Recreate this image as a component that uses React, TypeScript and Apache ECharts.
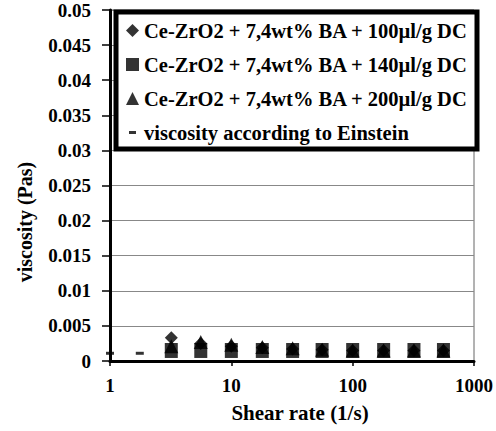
import React, { useEffect, useRef } from "react";
import * as echarts from "echarts";

const shearRate = [3.2, 5.6, 10, 18, 32, 56, 100, 180, 320, 560];
const visc100 = [0.0033, 0.0025, 0.0021, 0.0019, 0.0017, 0.0016, 0.0015, 0.0015, 0.0015, 0.0015];
const visc140 = [0.0015, 0.0015, 0.0015, 0.0015, 0.0015, 0.0015, 0.0015, 0.0015, 0.0015, 0.0015];
const visc200 = [0.0021, 0.0027, 0.0023, 0.002, 0.0018, 0.0016, 0.0015, 0.0015, 0.0015, 0.0015];
const einsteinRate = [1, 1.76];
const einsteinVisc = [0.0011, 0.0011];

const seriesNames = [
  "Ce-ZrO2 + 7,4wt% BA + 100µl/g DC",
  "Ce-ZrO2 + 7,4wt% BA + 140µl/g DC",
  "Ce-ZrO2 + 7,4wt% BA + 200µl/g DC",
  "viscosity according to Einstein",
];

const FONT = "Liberation Serif";
const dashIcon =
  "path://M0,0L0.01,0L0,0.01Z M13,13L12.99,13L13,12.99Z M3,5L10,5L10,8L3,8Z";

export default function App() {
  const ref = useRef<HTMLDivElement>(null);
  useEffect(() => {
    if (!ref.current) return;
    const chart = echarts.init(ref.current, undefined, { renderer: "svg" });
    const pair = (xs: number[], ys: number[]) => xs.map((x, i) => [x, ys[i]]);
    chart.setOption({
      animation: false,
      backgroundColor: "#fff",
      grid: {
        left: 110,
        right: 19,
        top: 10,
        bottom: 70,
        show: true,
        borderColor: "#666",
        borderWidth: 1,
      },
      xAxis: {
        type: "log",
        logBase: 10,
        min: 1,
        max: 1000,
        axisLine: { show: true, onZero: false, lineStyle: { color: "#000", width: 3 } },
        axisTick: { show: true, inside: false, length: 5, lineStyle: { color: "#000", width: 1.5 } },
        minorTick: { show: false },
        splitLine: { show: false },
        axisLabel: {
          color: "#000",
          fontFamily: FONT,
          fontWeight: "bold",
          fontSize: 19,
          margin: 15,
          formatter: (v: number) => String(Math.round(v)),
        },
      },
      yAxis: {
        type: "value",
        min: 0,
        max: 0.05,
        interval: 0.005,
        axisLine: { show: true, lineStyle: { color: "#000", width: 3 } },
        axisTick: { show: true, inside: false, length: 8, lineStyle: { color: "#000", width: 1.5 } },
        splitLine: { show: true, lineStyle: { color: "#888", width: 1 } },
        axisLabel: {
          color: "#000",
          fontFamily: FONT,
          fontWeight: "bold",
          fontSize: 19,
          margin: 19,
        },
      },
      legend: {
        orient: "vertical",
        left: 126,
        top: 20,
        padding: 0,
        itemGap: 13,
        itemWidth: 13,
        itemHeight: 13,
        z: 10,
        selectedMode: false,
        textStyle: {
          color: "#000",
          fontFamily: FONT,
          fontWeight: "bold",
          fontSize: 20.5,
          lineHeight: 20,
        },
        data: [
          { name: seriesNames[0], icon: "diamond" },
          { name: seriesNames[1], icon: "rect" },
          { name: seriesNames[2], icon: "triangle" },
          { name: seriesNames[3], icon: dashIcon },
        ],
      },
      graphic: [
        {
          type: "rect",
          z: 5,
          shape: { x: 116, y: 12, width: 361, height: 137 },
          style: { fill: "#fff", stroke: "#000", lineWidth: 5 },
        },
        {
          type: "text",
          z: 5,
          x: 25,
          y: 222,
          rotation: Math.PI / 2,
          style: {
            text: "viscosity (Pas)",
            fontFamily: FONT,
            fontWeight: "bold",
            fontSize: 20,
            fill: "#000",
            align: "center",
            verticalAlign: "middle",
          },
        },
        {
          type: "text",
          z: 5,
          x: 300,
          y: 413,
          style: {
            text: "Shear rate (1/s)",
            fontFamily: FONT,
            fontWeight: "bold",
            fontSize: 21,
            fill: "#000",
            align: "center",
            verticalAlign: "middle",
          },
        },
      ],
      series: [
        {
          name: seriesNames[0],
          type: "scatter",
          symbol: "diamond",
          symbolSize: 13,
          itemStyle: { color: "#000" },
          data: pair(shearRate, visc100),
        },
        {
          name: seriesNames[1],
          type: "scatter",
          symbol: "rect",
          symbolSize: [13, 15],
          itemStyle: { color: "#000" },
          data: pair(shearRate, visc140),
        },
        {
          name: seriesNames[2],
          type: "scatter",
          symbol: "triangle",
          symbolSize: 14,
          itemStyle: { color: "#000" },
          data: pair(shearRate, visc200),
        },
        {
          name: seriesNames[3],
          type: "scatter",
          symbol: "rect",
          symbolSize: [8, 3],
          itemStyle: { color: "#000" },
          clip: false,
          data: pair(einsteinRate, einsteinVisc),
        },
      ],
    });
    return () => chart.dispose();
  }, []);
  return (
    <div
      ref={ref}
      style={{ position: "fixed", left: 0, top: 0, width: 496, height: 431 }}
    />
  );
}
